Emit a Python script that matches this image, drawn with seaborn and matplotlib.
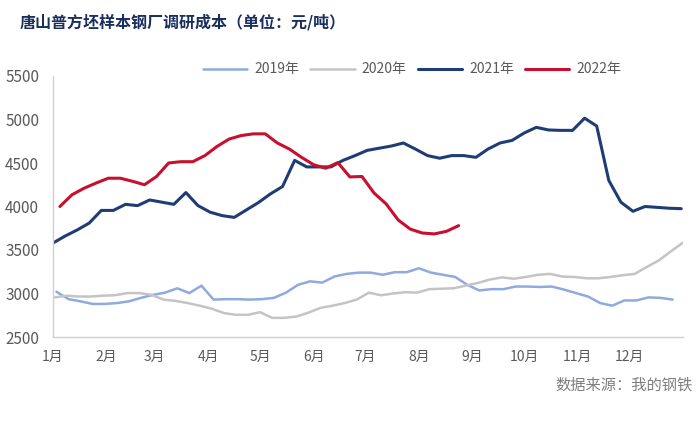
import numpy as np
import pandas as pd
import matplotlib
matplotlib.use("Agg")
import matplotlib.pyplot as plt
import seaborn as sns

# weekly survey cost, yuan/ton
v2019 = [3020, 2935, 2910, 2880, 2880, 2890, 2910, 2950, 2985, 3010,
         3060, 3005, 3090, 2930, 2935, 2935, 2930, 2935, 2950, 3010,
         3100, 3140, 3125, 3195, 3225, 3240, 3240, 3215, 3245, 3245,
         3290, 3240, 3215, 3190, 3100, 3035, 3050, 3050, 3080, 3080,
         3075, 3080, 3045, 3005, 2965, 2890, 2860, 2920, 2920, 2955,
         2950, 2930]
v2020 = [2955, 2975, 2965, 2965, 2975, 2980, 3005, 3005, 2985, 2930,
         2915, 2890, 2860, 2825, 2775, 2755, 2755, 2785, 2720, 2720,
         2735, 2780, 2835, 2860, 2890, 2930, 3010, 2980, 3000, 3015,
         3010, 3050, 3055, 3060, 3090, 3120, 3160, 3185, 3170, 3190,
         3215, 3225, 3195, 3190, 3175, 3175, 3190, 3210, 3225, 3305,
         3380, 3485, 3585]
v2021 = [3580, 3660, 3730, 3810, 3955, 3955, 4025, 4010, 4075, 4050,
         4025, 4160, 4010, 3935, 3895, 3875, 3960, 4045, 4145, 4230,
         4530, 4455, 4455, 4455, 4530, 4585, 4645, 4670, 4695, 4730,
         4660, 4585, 4555, 4585, 4585, 4565, 4660, 4730, 4760, 4845,
         4910, 4880, 4875, 4875, 5015, 4925, 4300, 4050, 3945, 4000,
         3990, 3980, 3975]
v2022 = [4000, 4135, 4210, 4270, 4325, 4325, 4290, 4250, 4345, 4500,
         4515, 4515, 4585, 4690, 4775, 4815, 4835, 4835, 4730, 4660,
         4565, 4480, 4440, 4505, 4340, 4345, 4155, 4030, 3845, 3740,
         3695, 3685, 3715, 3780]

series = {
    "2019年": ("2019-01-03", v2019),
    "2020年": ("2020-01-02", v2020),
    "2021年": ("2021-01-01", v2021),
    "2022年": ("2022-01-05", v2022),
}
colors = {"2019年": "#8FAADC", "2020年": "#C4C4C4", "2021年": "#1F3C74", "2022年": "#C8102E"}
widths = {"2019年": 1.8, "2020年": 1.8, "2021年": 2.2, "2022年": 2.2}

month_labels = [f"{m}月" for m in range(1, 13)] + [""]

frames = []
for name, (start, vals) in series.items():
    dates = pd.date_range(start, periods=len(vals), freq="7D")
    frames.append(pd.DataFrame({"day": dates.dayofyear - 1, "cost": vals, "year": name}))
df = pd.concat(frames, ignore_index=True)

sns.set_style("white")
plt.rcParams["font.family"] = ["Noto Sans CJK SC", "DejaVu Sans"]

fig = plt.figure(figsize=(7, 4.24), dpi=100)
ax = fig.add_axes([53 / 700, 87 / 424, 630 / 700, 261 / 424])

for name in series:
    sns.lineplot(data=df[df["year"] == name], x="day", y="cost", ax=ax,
                 color=colors[name], linewidth=widths[name], label=name)

month_starts = pd.date_range("2021-01-01", periods=13, freq="MS")
ticks = (month_starts - pd.Timestamp("2021-01-01")).days
ax.set_xticks(ticks)
ax.set_xticklabels(month_labels)
ax.set_xlim(0, 365)
ax.set_ylim(2500, 5500)
ax.set_yticks(range(2500, 5501, 500))
ax.set_xlabel("")
ax.set_ylabel("")

for s in ["top", "right"]:
    ax.spines[s].set_visible(False)
for s in ["left", "bottom"]:
    ax.spines[s].set_color("#D0D0D0")
    ax.spines[s].set_linewidth(1.0)
ax.tick_params(axis="both", direction="in", length=5, color="#D0D0D0",
               labelcolor="#595959")
ax.tick_params(axis="y", labelsize=11, pad=10)
ax.tick_params(axis="x", labelsize=10, pad=9)

ax.legend(loc="center", bbox_to_anchor=(0.57, 1.025), ncol=4, frameon=False,
          fontsize=10, handlelength=3.2, handletextpad=0.5, columnspacing=0.8,
          labelcolor="#595959")

fig.text(20 / 700, 1 - 22 / 424, "唐山普方坯样本钢厂调研成本（单位：元/吨）",
         fontsize=11.5, fontweight="bold", color="#1A2F5E", va="center", ha="left")
fig.text(693 / 700, 1 - 385 / 424, "数据来源：我的钢铁", fontsize=11,
         color="#7F7F7F", va="center", ha="right")

fig.savefig("out.png", dpi=100)
